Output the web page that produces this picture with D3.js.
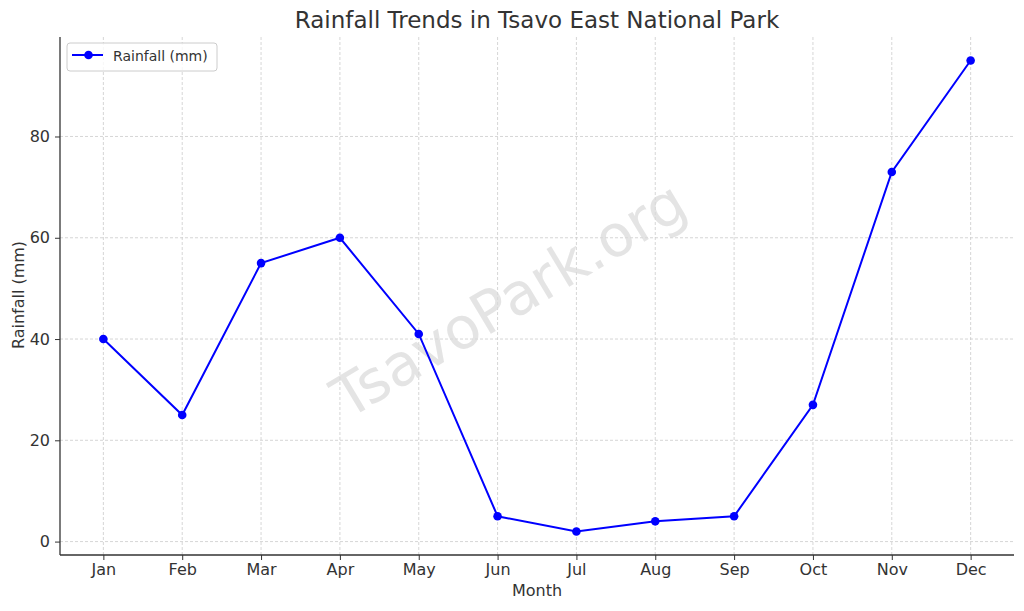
<!DOCTYPE html>
<html><head><meta charset="utf-8">
<script src="https://cdn.jsdelivr.net/npm/d3@7"></script>
<style>body{margin:0;background:#fff;} svg{display:block;font-family:"DejaVu Sans",sans-serif;}</style>
</head><body><svg id="c" width="1024" height="611"></svg>
<script>
const months = ["Jan","Feb","Mar","Apr","May","Jun","Jul","Aug","Sep","Oct","Nov","Dec"];
const rainfall = [40,25,55,60,41,5,2,4,5,27,73,95];
const yTicks = [0,20,40,60,80];
const title = "Rainfall Trends in Tsavo East National Park";
const seriesName = "Rainfall (mm)";

const svg = d3.select("#c");
const L = 60, R = 1014, T = 37, B = 555;
const x = d3.scaleLinear().domain([-0.55, 11.55]).range([L, R]);
const y = d3.scaleLinear().domain([-2.65, 99.65]).range([B, T]);
const txt = "#333";

// grid
svg.append("g").selectAll("line").data(months).join("line")
  .attr("x1",(d,i)=>x(i)).attr("x2",(d,i)=>x(i)).attr("y1",T).attr("y2",B)
  .attr("stroke","#ccc").attr("stroke-width",0.8).attr("stroke-dasharray","3,2");
svg.append("g").selectAll("line").data(yTicks).join("line")
  .attr("x1",L).attr("x2",R).attr("y1",d=>y(d)).attr("y2",d=>y(d))
  .attr("stroke","#ccc").attr("stroke-width",0.8).attr("stroke-dasharray","3,2");

// watermark
svg.append("text").attr("transform","translate(511,303) rotate(-31)")
  .attr("text-anchor","middle").attr("dominant-baseline","middle")
  .attr("font-size",58).attr("fill","#d9d9d9").attr("fill-opacity",0.7).text("TsavoPark.org");

// axes
const xAxis = d3.axisBottom(x).tickValues(d3.range(months.length)).tickFormat(i=>months[i]).tickSize(5).tickPadding(4);
const gx = svg.append("g").attr("transform",`translate(0,${B})`).call(xAxis);
const yAxis = d3.axisLeft(y).tickValues(yTicks).tickSize(5).tickPadding(5);
const gy = svg.append("g").attr("transform",`translate(${L},0)`).call(yAxis);
[gx,gy].forEach(g=>{
  g.select(".domain").attr("stroke",txt).attr("stroke-width",1.3).attr("d", g===gx ? `M${L},0H${R}` : `M0,${T}V${B}`);
  g.selectAll(".tick line").attr("stroke",txt).attr("stroke-width",1);
  g.selectAll(".tick text").attr("fill",txt).attr("font-size",16).attr("font-family","DejaVu Sans");
});

// line
const line = d3.line().x((d,i)=>x(i)).y(d=>y(d));
svg.append("path").datum(rainfall).attr("d",line).attr("fill","none").attr("stroke","#0000ff").attr("stroke-width",2);
svg.append("g").selectAll("circle").data(rainfall).join("circle")
  .attr("cx",(d,i)=>x(i)).attr("cy",d=>y(d)).attr("r",4.3).attr("fill","#0000ff");

// labels
svg.append("text").attr("x",537).attr("y",28).attr("text-anchor","middle").attr("font-size",23).attr("fill",txt).text(title);
svg.append("text").attr("x",537).attr("y",596).attr("text-anchor","middle").attr("font-size",16).attr("fill",txt).text("Month");
svg.append("text").attr("transform","translate(24,295) rotate(-90)").attr("text-anchor","middle").attr("font-size",16).attr("fill",txt).text("Rainfall (mm)");

// legend
const lg = svg.append("g").attr("transform","translate(67,43)");
lg.append("rect").attr("width",150).attr("height",28).attr("rx",3).attr("fill","#fff").attr("fill-opacity",0.8).attr("stroke","#ccc");
lg.append("line").attr("x1",5).attr("x2",36).attr("y1",12).attr("y2",12).attr("stroke","#0000ff").attr("stroke-width",2);
lg.append("circle").attr("cx",21.5).attr("cy",12).attr("r",4.3).attr("fill","#0000ff");
lg.append("text").attr("x",46).attr("y",17.5).attr("font-size",14).attr("fill",txt).text(seriesName);
</script></body></html>
